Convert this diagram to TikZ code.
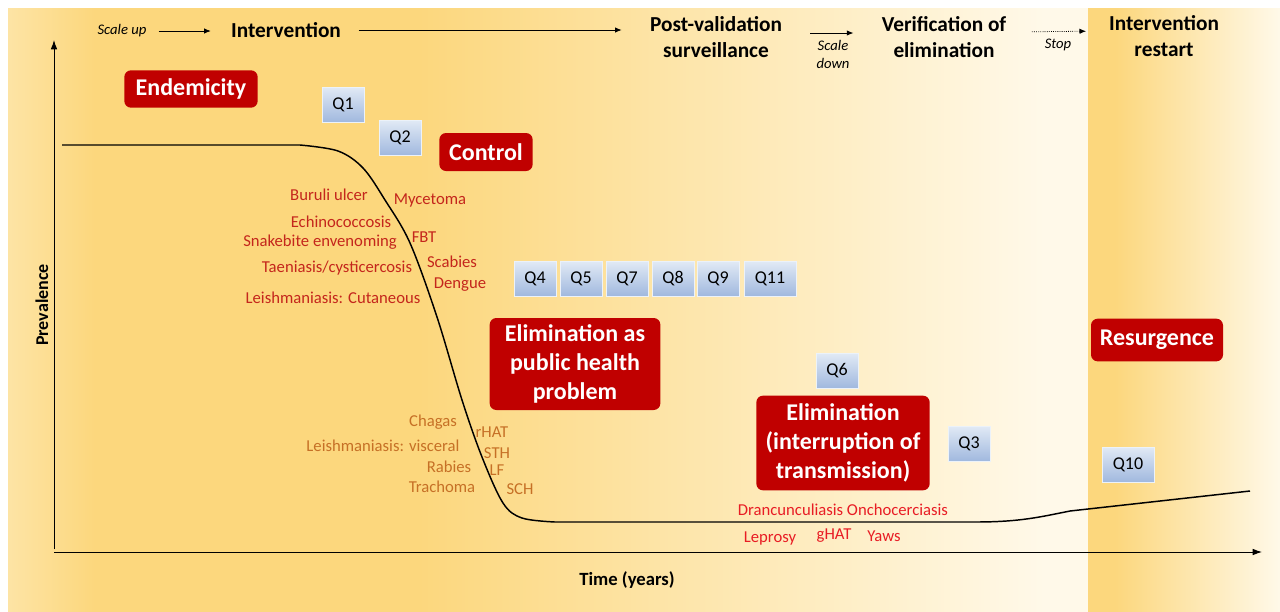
\documentclass[tikz,border=0pt]{standalone}
\usepackage{fontspec}
\setmainfont{Carlito}
\usetikzlibrary{arrows.meta}

\definecolor{boxred}{RGB}{192,0,0}
\definecolor{ntddark}{RGB}{196,38,28}
\definecolor{ntdorange}{RGB}{198,112,38}
\definecolor{ntdbright}{RGB}{232,28,36}
\definecolor{qtop}{RGB}{224,233,245}
\definecolor{qbot}{RGB}{160,184,222}
\definecolor{bgedge}{RGB}{253,228,165}
\definecolor{bgdark}{RGB}{252,215,125}
\definecolor{bglight}{RGB}{255,249,233}

\pgfdeclarehorizontalshading{phaseshade}{100bp}{color(0bp)=(bgedge); color(25bp)=(bgedge); color(29bp)=(bgdark); color(44bp)=(bgdark); color(73bp)=(bglight); color(100bp)=(bglight)}
\pgfdeclarehorizontalshading{restartshade}{100bp}{color(0bp)=(bgdark); color(25bp)=(bgdark); color(32bp)=(bgdark); color(75bp)=(bglight); color(100bp)=(bglight)}

\begin{document}
\begin{tikzpicture}[x=0.75pt,y=0.75pt,yscale=-1,xscale=1,
    hdlabel/.style={font=\bfseries\fontsize{16}{19.5}\selectfont, align=center, inner sep=1pt},
    hdnote/.style={font=\itshape\fontsize{11}{13.5}\selectfont, align=center, inner sep=1pt},
    hdarrow/.style={-{Latex[length=5pt,width=4pt]}, line width=0.6pt},
    axisarrow/.style={-{Latex[length=7pt,width=5pt]}, line width=0.75pt},
    phasebox/.style={fill=boxred, rounded corners=5pt, text=white, align=center,
        font=\bfseries\fontsize{18}{22}\selectfont, inner sep=2pt},
    qbox/.style={top color=qtop, bottom color=qbot, draw=qtop!60!white, line width=0.3pt,
        minimum width=31.5pt, minimum height=26pt, inner sep=1pt, font=\fontsize{13.5}{16}\selectfont},
    ntda/.style={text=ntddark, font=\fontsize{12.5}{15}\selectfont, inner sep=1pt},
    ntdb/.style={text=ntdorange, font=\fontsize{12.5}{15}\selectfont, inner sep=1pt},
    ntdc/.style={text=ntdbright, font=\fontsize{12.5}{15}\selectfont, inner sep=1pt}]

    % background panels
    \useasboundingbox (0,0) rectangle (1280,611);
    \fill[white] (0,0) rectangle (1280,611);
    \shade[shading=phaseshade] (8,8) rectangle (1088,611);
    \shade[shading=restartshade] (1088,8) rectangle (1280,611);

    % phases along the top
    \node[hdnote] (scaleup) at (122,31) {Scale up};
    \node[hdlabel] (interv) at (286,30) {Intervention};
    \node[hdlabel] (postval) at (716,37) {Post-validation\\surveillance};
    \node[hdnote] (scaledown) at (833,54) {Scale\\down};
    \node[hdlabel] (verif) at (944,37) {Verification of\\elimination};
    \node[hdnote] (stop) at (1058,45) {Stop};
    \node[hdlabel] (restart) at (1164,36) {Intervention\\restart};

    \draw[hdarrow, shorten <=8pt, shorten >=14pt] (scaleup.east) -- (scaleup.east -| interv.west);
    \draw[hdarrow, shorten <=12pt, shorten >=20pt] (interv.east) -- (interv.east -| postval.west);
    \draw[hdarrow, shorten <=20pt, shorten >=20pt] ([yshift=-3pt]postval.east) -- ([yshift=-3pt]verif.west);
    \draw[hdarrow, densely dotted, shorten <=18pt, shorten >=16pt] ([yshift=-3.75pt]verif.east) -- ([yshift=-3.75pt]restart.west);

    % axes
    \coordinate (origin) at (54,552);
    \coordinate (ytop) at (54,40);
    \coordinate (xend) at (1262,552);
    \draw[axisarrow] ([yshift=-2pt]origin) -- (ytop);
    \draw[axisarrow] (origin) -- (xend);
    \node[font=\bfseries\fontsize{13.5}{16}\selectfont, rotate=90] (prev) at (42,305) {Prevalence};
    \node[font=\bfseries\fontsize{14}{17}\selectfont] (time) at (627,580) {Time (years)};

    % prevalence curve
    \draw[line width=1.1pt] (62,145) -- plot[smooth, tension=0.55] coordinates {(300,145) (338,151) (363,168) (385,200) (410,243) (437,317) (462,400) (482,457) (503,503) (522,518) (555,522)}
        -- (975,522) .. controls (1020,522) and (1040,517) .. (1070,511) -- (1250,491);

    % phases
    \node[phasebox, minimum width=100pt, minimum height=28pt] (endemic) at (191,89) {Endemicity};
    \node[phasebox, minimum width=70pt, minimum height=28.5pt] (control) at (486,152) {Control};
    \node[phasebox, minimum width=128pt, minimum height=69pt] (elimphp) at (575,364) {Elimination as\\public health\\problem};
    \node[phasebox, minimum width=130pt, minimum height=71pt] (elimint) at (843,443) {Elimination\\(interruption of\\transmission)};
    \node[phasebox, minimum width=99pt, minimum height=32pt] (resurg) at (1157,340) {Resurgence};

    % questions
    \node[qbox] (q1) at (343,105) {Q1};
    \node[qbox] (q2) at (400,138) {Q2};
    \node[qbox] (q4) at (535,279) {Q4};
    \node[qbox] (q5) at (581,279) {Q5};
    \node[qbox] (q7) at (627,279) {Q7};
    \node[qbox] (q8) at (673,279) {Q8};
    \node[qbox] (q9) at (718,279) {Q9};
    \node[qbox, minimum width=39pt] (q11) at (770,279) {Q11};
    \node[qbox] (q6) at (837,371) {Q6};
    \node[qbox] (q3) at (969,444) {Q3};
    \node[qbox, minimum width=39pt] (q10) at (1128,465) {Q10};

    % diseases
    \node[ntda] (buruli) at (329,195) {Buruli ulcer};
    \node[ntda] (myceto) at (430,200) {Mycetoma};
    \node[ntda] (echino) at (341,222) {Echinococcosis};
    \node[ntda] (snake) at (320,242) {Snakebite envenoming};
    \node[ntda] (fbt) at (424,237) {FBT};
    \node[ntda] (taenia) at (337,268) {Taeniasis/cysticercosis};
    \node[ntda] (scabies) at (452,262) {Scabies};
    \node[ntda] (dengue) at (460,285) {Dengue};
    \node[ntda] (leishc) at (333,298) {Leishmaniasis: Cutaneous};

    \node[ntdb] (chagas) at (433,422) {Chagas};
    \node[ntdb] (rhat) at (492,432) {rHAT};
    \node[ntdb] (leishv) at (383,446) {Leishmaniasis: visceral};
    \node[ntdb] (sth) at (497,453) {STH};
    \node[ntdb] (rabies) at (449,467) {Rabies};
    \node[ntdb] (lf) at (497,470) {LF};
    \node[ntdb] (trach) at (442,487) {Trachoma};
    \node[ntdb] (sch) at (520,489) {SCH};

    \node[ntdc] (dranc) at (843,510) {Drancunculiasis Onchocerciasis};
    \node[ntdc] (lepro) at (770,538) {Leprosy};
    \node[ntdc] (ghat) at (834,536) {gHAT};
    \node[ntdc] (yaws) at (884,536) {Yaws};
\end{tikzpicture}
\end{document}
